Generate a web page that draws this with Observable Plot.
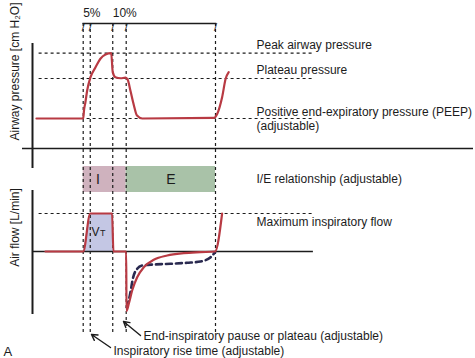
<!DOCTYPE html>
<html>
<head>
<meta charset="utf-8">
<script src="https://cdn.jsdelivr.net/npm/d3@7"></script>
<script src="https://cdn.jsdelivr.net/npm/@observablehq/plot@0.6"></script>
<style>
  html, body { margin: 0; padding: 0; background: #fff; }
  #chart { position: relative; width: 475px; height: 358px; overflow: hidden; background: #fff;
           font-family: "Liberation Sans", Arial, Helvetica, sans-serif; }
  #chart svg { position: absolute; left: 0; top: 0; background: transparent !important; overflow: visible; }
</style>
</head>
<body>
<div id="chart"></div>
<script>
// ---------------- data ----------------
// time in seconds: breath cycle from 1 s (start of inspiration) to 4 s (end of expiration)
const eventTimes = [1, 1.16, 1.67, 1.975, 4];          // insp start, rise end, flow end, pause end, exp end
const pctLabels  = ["5%", "10%"];
const pctStarts  = [1, 1.67];

const phaseNames  = ["I", "E"];
const phaseStarts = [1, 1.975];
const phaseEnds   = [1.975, 4];
const phaseLabelTimes = [1.335, 2.99];
const ieRowName = "I/E relationship (adjustable)";

// airway pressure [cm H2O]
const pressureTime  = [-0.06, 1.0, 1.02, 1.05, 1.09, 1.166, 1.28, 1.39, 1.506, 1.635, 1.67, 1.73, 1.85, 1.96, 2.01, 2.07, 2.15, 2.22, 2.34, 3.96, 4.04, 4.15, 4.23, 4.30];
const pressureValue = [5, 5, 8.3, 11.1, 15.5, 20.5, 24.2, 27.4, 29.0, 29.5, 22.4, 20.5, 20.1, 20.3, 19.5, 15.5, 9.9, 6.1, 5, 5.2, 6.8, 13, 19.9, 22.4];
const pressureLevels = [29.5, 20, 5];
const pressureLevelNames = ["Peak airway pressure", "Plateau pressure", "Positive end-expiratory pressure (PEEP)\n(adjustable)"];

// air flow [L/min]
const flowTime  = [0.145, 1.0, 1.16, 1.655, 1.685, 1.975, 1.982, 2.034, 2.11, 2.224, 2.374, 2.6, 2.905, 3.281, 3.66, 3.99, 4.15];
const flowValue = [0, 0, 60, 60, 0, 0, -94, -82.6, -61.6, -40.6, -24.8, -13.1, -6.3, -2.7, -1.1, 0, 60];
const altFlowTime  = [1.99, 2.057, 2.134, 2.224, 2.338, 2.6, 2.98, 3.36, 3.66, 3.89, 3.99];
const altFlowValue = [-88, -69.5, -40.6, -27.3, -22.1, -20.5, -19.4, -17.8, -15.8, -9, -1];
const maxFlow = 60;
const maxFlowName = "Maximum inspiratory flow";

const pressureAxisLabel = "Airway pressure [cm H\u2082O]";
const flowAxisLabel = "Air flow [L/min]";
const noteTexts = ["End-inspiratory pause or plateau (adjustable)", "Inspiratory rise time (adjustable)"];
const panelLetter = "A";

// ---------------- styling / layout ----------------
const W = 475, H = 358;
const ink = "#1c1c1c", red = "#b83a43", navy = "#2a2a50";
const phaseColors = ["#cfb2be", "#a9c2a8"];
const vtColor = "#c4c7e4";
const font = "'Liberation Sans', Arial, Helvetica, sans-serif";
const M = {marginTop: 23, marginBottom: 26, marginLeft: 82.7, marginRight: 260};
const xScale = {domain: [eventTimes[0], eventTimes[4]], range: [82.7, 215], axis: null};
const levelLineStart = 0, levelLineEnd = 6.2, axisT = -0.15, zeroLineEnd = 6.22, labelT = 4.93;
const baseStyle = {fontFamily: font, fontSize: "12px", background: "transparent", overflow: "visible"};

const pressure = pressureTime.map((t, i) => ({t, p: pressureValue[i]}));
const levels = pressureLevels.map((p, i) => ({p, name: pressureLevelNames[i]}));
const flow = flowTime.map((t, i) => ({t, f: flowValue[i]}));
const altFlow = altFlowTime.map((t, i) => ({t, f: altFlowValue[i]}));
const vt = flow.filter(d => d.t >= eventTimes[0] && d.t < eventTimes[3]);
const phases = phaseNames.map((name, i) => ({name, start: phaseStarts[i], end: phaseEnds[i], mid: phaseLabelTimes[i]}));
const pcts = pctLabels.map((label, i) => ({label, start: pctStarts[i]}));

const chart = document.getElementById("chart");

// 1) I/E relationship band
chart.append(Plot.plot({
  width: W, height: H, ...M, style: baseStyle,
  x: xScale,
  y: {type: "band", domain: [ieRowName], range: [166, 192], padding: 0, axis: null},
  color: {domain: phaseNames, range: phaseColors},
  marks: [
    Plot.barX(phases, {x1: "start", x2: "end", y: () => ieRowName, fill: "name"}),
    Plot.text(phases, {x: "mid", y: () => ieRowName, text: "name", fontSize: 14, fill: ink}),
    Plot.text([ieRowName], {x: labelT, y: d => d, text: d => d, textAnchor: "start", fill: ink})
  ]
}));

// 2) Air flow panel + timing guides
chart.append(Plot.plot({
  width: W, height: H, ...M, style: baseStyle,
  x: xScale,
  y: {domain: [0, maxFlow], range: [251, 213], axis: null},
  marks: [
    Plot.areaY(vt, {x: "t", y: "f", fill: vtColor}),
    Plot.ruleY([maxFlow], {x1: levelLineStart, x2: levelLineEnd, stroke: ink, strokeWidth: 1.2, strokeDasharray: "3,3"}),
    Plot.ruleY([0], {x1: axisT, x2: zeroLineEnd, stroke: ink, strokeWidth: 1.6}),
    Plot.ruleX(eventTimes, {stroke: ink, strokeWidth: 1.2, strokeDasharray: "3,3"}),
    Plot.frame({anchor: "top", stroke: ink, strokeWidth: 1.5}),
    Plot.text(eventTimes, {x: d => d, text: () => "/", frameAnchor: "top", fontSize: 11, fill: ink}),
    Plot.text(pcts, {x: "start", text: "label", frameAnchor: "top", dy: -15, textAnchor: "start", fill: ink}),
    Plot.line(altFlow, {x: "t", y: "f", stroke: navy, strokeWidth: 2.6, strokeDasharray: "6,4", curve: "monotone-x"}),
    Plot.line(flow, {x: "t", y: "f", stroke: red, strokeWidth: 2.2, curve: "monotone-x"}),
    Plot.text(["V"], {x: () => phaseLabelTimes[0], y: () => maxFlow / 2, text: d => d, dx: -2.5, dy: 3, lineAnchor: "bottom", fontSize: 12, fill: ink}),
    Plot.text(["T"], {x: () => phaseLabelTimes[0], y: () => maxFlow / 2, text: d => d, dx: 4.7, dy: 3, lineAnchor: "bottom", fontSize: 9, fill: ink}),
    Plot.text([maxFlowName], {x: labelT, y: () => maxFlow, text: d => d, dy: 9, textAnchor: "start", fill: ink})
  ]
}));

// 3) Airway pressure panel
chart.append(Plot.plot({
  width: W, height: H, ...M, style: baseStyle,
  x: xScale,
  y: {domain: [5, 20], range: [118, 78], axis: null},
  marks: [
    Plot.ruleY(levels, {y: "p", x1: levelLineStart, x2: levelLineEnd, stroke: ink, strokeWidth: 1.2, strokeDasharray: "3,3"}),
    Plot.line(pressure, {x: "t", y: "p", stroke: red, strokeWidth: 2.2, curve: "monotone-x"}),
    Plot.text(levels.slice(0, 2), {x: labelT, y: "p", text: "name", dy: -8.5, textAnchor: "start", fill: ink}),
    Plot.text(levels.slice(2), {x: labelT, y: "p", text: "name", textAnchor: "start", lineHeight: 1.17, fill: ink})
  ]
}));

// 4) Frame annotations: axes, axis titles, arrows, notes
chart.append(Plot.plot({
  width: W, height: H, margin: 0, style: baseStyle,
  x: {type: "identity", axis: null},
  y: {type: "identity", axis: null},
  marks: [
    Plot.ruleX([32], {y1: 43, y2: 168, stroke: ink, strokeWidth: 2}),
    Plot.ruleX([32], {y1: 190, y2: 314, stroke: ink, strokeWidth: 2}),
    Plot.ruleY([148], {x1: 22, x2: 473, stroke: ink, strokeWidth: 1.6}),
    Plot.text([pressureAxisLabel], {x: 15, y: 71, text: d => d, rotate: -90, fill: ink}),
    Plot.text([flowAxisLabel], {x: 15, y: 227, text: d => d, rotate: -90, fill: ink}),
    Plot.arrow([0], {x1: 140, y1: 335, x2: 123, y2: 321, stroke: ink, strokeWidth: 1.4, headLength: 7}),
    Plot.arrow([0], {x1: 110, y1: 347, x2: 91, y2: 334, stroke: ink, strokeWidth: 1.4, headLength: 7}),
    Plot.text([noteTexts[0]], {x: 143, y: 336, text: d => d, textAnchor: "start", fill: ink}),
    Plot.text([noteTexts[1]], {x: 113, y: 351, text: d => d, textAnchor: "start", fill: ink}),
    Plot.text([panelLetter], {x: 3, y: 351, text: d => d, textAnchor: "start", fontSize: 13, fill: ink})
  ]
}));
</script>
</body>
</html>
